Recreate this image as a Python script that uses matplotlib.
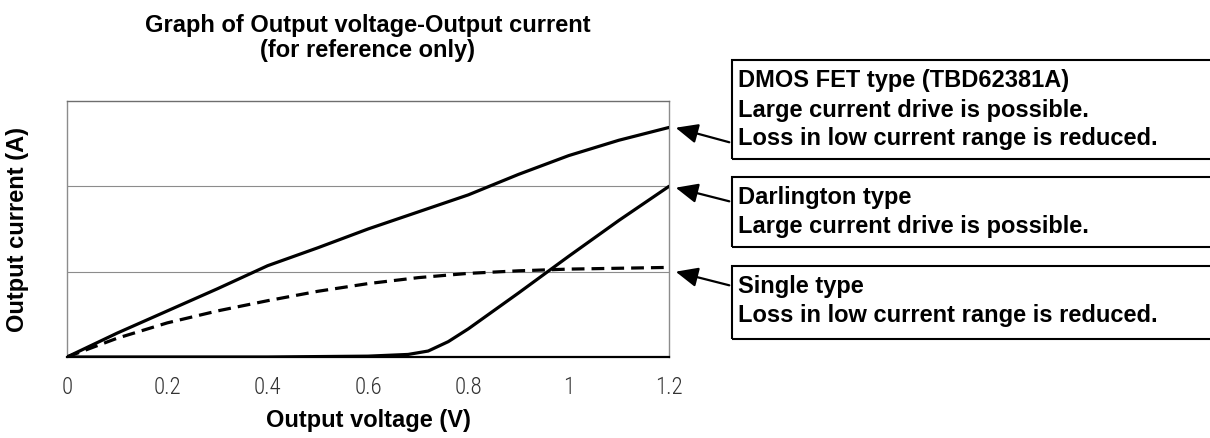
import matplotlib
matplotlib.use("Agg")
import matplotlib.pyplot as plt
from matplotlib.patches import Rectangle, FancyArrowPatch
from matplotlib import font_manager

plt.rcParams['font.family'] = ['Liberation Sans', 'DejaVu Sans']
names = {f.name for f in font_manager.fontManager.ttflist}
tick_family = 'DejaVu Sans'
for cand in ['Liberation Sans Narrow', 'DejaVu Sans Condensed', 'Roboto Condensed', 'Roboto']:
    if cand in names:
        tick_family = cand
        break

# data
v_dmos = [0.0, 0.1, 0.2, 0.3, 0.4, 0.5, 0.6, 0.7, 0.8, 0.9, 1.0, 1.1, 1.2]
i_dmos = [0.0, 0.28, 0.54, 0.80, 1.07, 1.28, 1.50, 1.70, 1.90, 2.14, 2.36, 2.54, 2.69]
v_darl = [0.0, 0.2, 0.4, 0.6, 0.68, 0.72, 0.76, 0.8, 0.9, 1.0, 1.1, 1.2]
i_darl = [0.0, 0.0, 0.0, 0.01, 0.03, 0.07, 0.18, 0.33, 0.75, 1.18, 1.60, 2.0]
v_single = [0.0, 0.1, 0.2, 0.3, 0.4, 0.5, 0.6, 0.7, 0.8, 0.9, 1.0, 1.1, 1.2]
i_single = [0.0, 0.22, 0.40, 0.54, 0.66, 0.77, 0.86, 0.93, 0.98, 1.01, 1.03, 1.04, 1.05]
x_ticks = [0, 0.2, 0.4, 0.6, 0.8, 1.0, 1.2]
x_ticklabels = ["0", "0.2", "0.4", "0.6", "0.8", "1", "1.2"]

title = "Graph of Output voltage-Output current\n(for reference only)"
notes = [
    ["DMOS FET type (TBD62381A)", "Large current drive is possible.", "Loss in low current range is reduced."],
    ["Darlington type", "Large current drive is possible."],
    ["Single type", "Loss in low current range is reduced."],
]

W, H = 1210, 439
fig = plt.figure(figsize=(W / 100, H / 100), dpi=100)
ax_l, ax_r, ax_t, ax_b = 67, 669, 102, 358
ax = fig.add_axes([ax_l / W, 1 - ax_b / H, (ax_r - ax_l) / W, (ax_b - ax_t) / H])
ax.set_xlim(0, 1.2)
ax.set_ylim(0, 3)
for y in [1, 2]:
    ax.axhline(y, color="#8c8c8c", lw=0.8, zorder=1)
ax.plot(v_dmos, i_dmos, color="black", lw=2.3, solid_capstyle="round", zorder=3)
ax.plot(v_darl, i_darl, color="black", lw=2.3, solid_capstyle="round", zorder=3)
ax.plot(v_single, i_single, color="black", lw=2.3, dashes=(4, 2.2), zorder=3)
for s in ax.spines.values():
    s.set_color("#8c8c8c")
    s.set_linewidth(1.0)
ax.spines["top"].set_color("#6e6e6e")
ax.spines["bottom"].set_color("black")
ax.spines["bottom"].set_linewidth(1.6)
ax.set_xticks(x_ticks)
ax.set_xticklabels(x_ticklabels, fontsize=16.5, color="#333333", family=tick_family, fontweight="light")
ax.set_yticks([])
ax.tick_params(axis="x", length=0, pad=13)
ax.set_xlabel("Output voltage (V)", fontsize=17, fontweight="bold", va="center")
ax.xaxis.set_label_coords(0.5, (ax_b - 421) / (ax_b - ax_t))
ax.set_ylabel("Output current (A)", fontsize=17, fontweight="bold", va="center")
ax.yaxis.set_label_coords((18 - ax_l) / (ax_r - ax_l), 0.5)
fig.text(368 / W, 1 - 38 / H, title, ha="center", va="center", fontsize=17, fontweight="bold", linespacing=1.1)

def fy(py):
    return 1 - py / H

boxes = [(61, 160), (178, 248), (267, 340)]
arrows = [((732, 144), (673, 128)), ((732, 203), (673, 188)), ((732, 287), (673, 272))]
for (top, bot), lines, (tail, head) in zip(boxes, notes, arrows):
    r = Rectangle((732 / W, fy(bot)), (1260 - 732) / W, (bot - top) / H, transform=fig.transFigure,
                  fill=False, edgecolor="black", lw=1.5, clip_on=False)
    fig.add_artist(r)
    for k, line in enumerate(lines):
        fig.text(738 / W, fy(top + 20 + 29 * k), line, ha="left", va="center", fontsize=17, fontweight="bold")
    a = FancyArrowPatch((tail[0] / W, fy(tail[1])), (head[0] / W, fy(head[1])), transform=fig.transFigure,
                        arrowstyle="-|>,head_length=9,head_width=4", color="black", lw=1.6, mutation_scale=1.5)
    fig.add_artist(a)

fig.savefig("out.png", dpi=100)
